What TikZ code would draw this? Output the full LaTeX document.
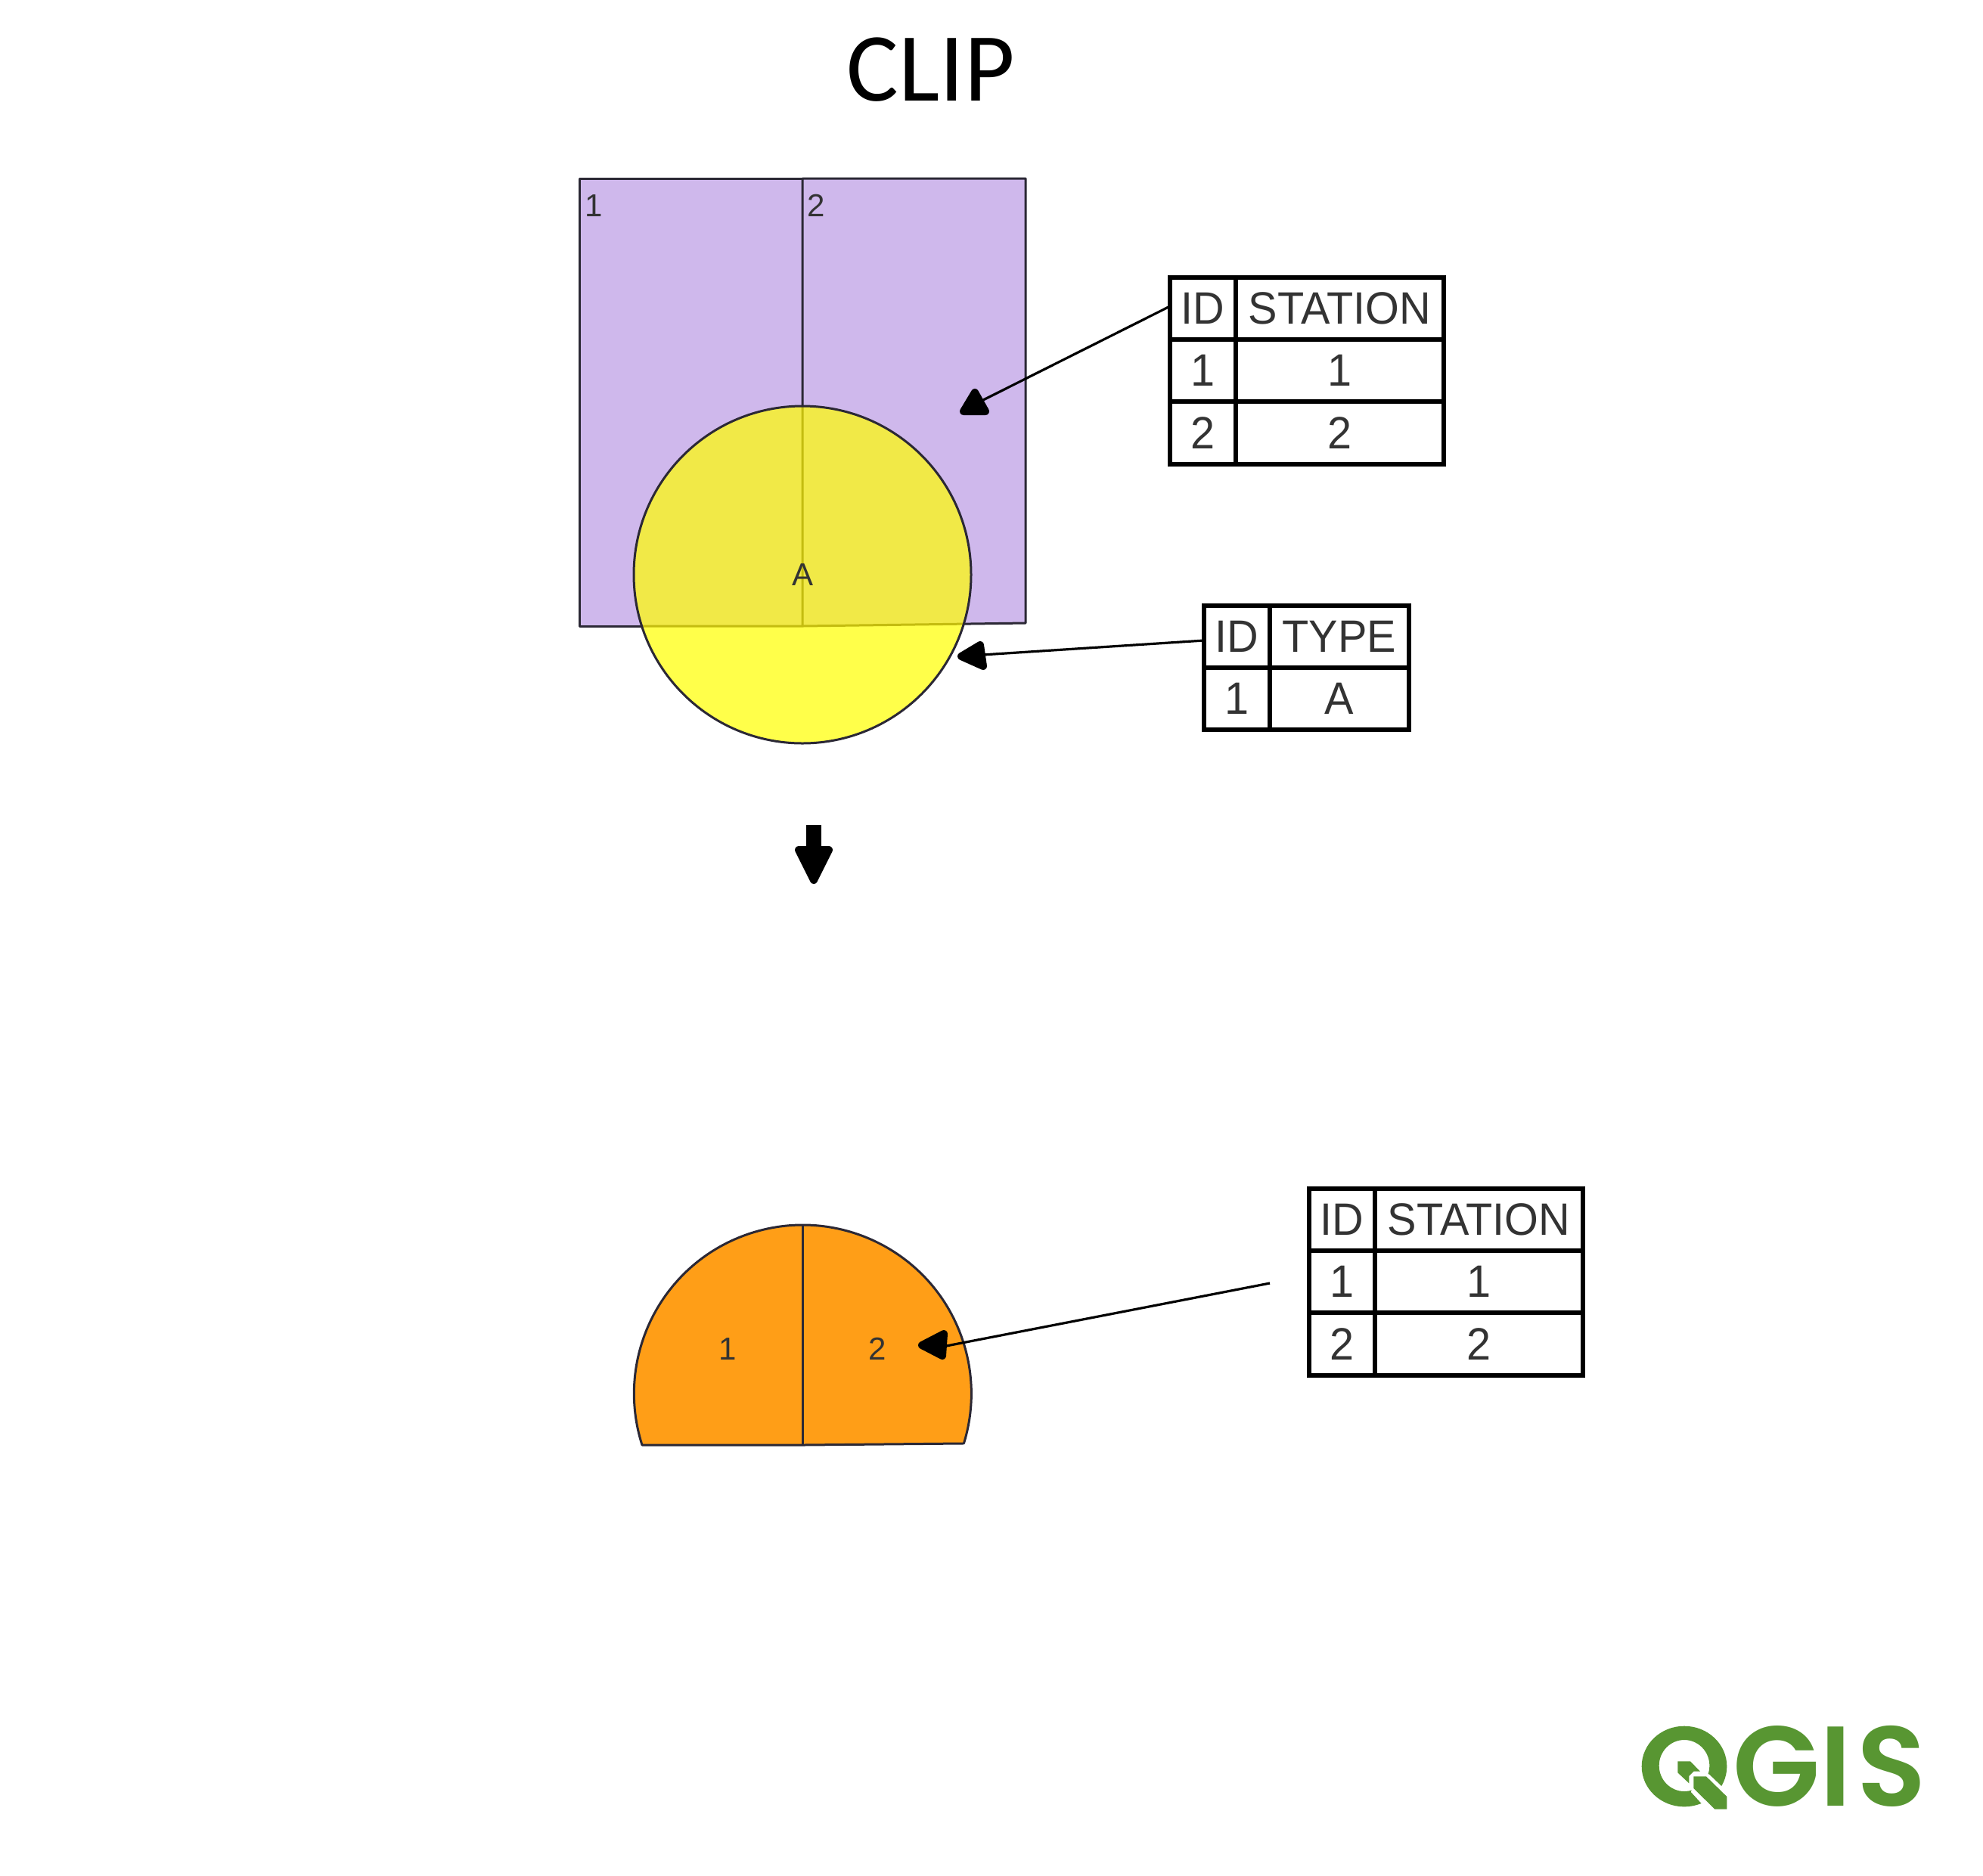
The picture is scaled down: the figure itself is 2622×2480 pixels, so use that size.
\documentclass[tikz,border=0pt]{standalone}
\usepackage{fontspec}
\usepackage{graphicx}
\setmainfont{Liberation Sans}
\newfontfamily\titlefont{Carlito}
\newfontfamily\logofont{Poppins SemiBold}
\usetikzlibrary{calc}
\definecolor{purp}{HTML}{CFB8EC}
\definecolor{yel}{HTML}{FFFF4A}
\definecolor{over}{HTML}{F1E947}
\definecolor{overline}{HTML}{C4BC10}
\definecolor{orng}{HTML}{FF9E17}
\definecolor{edge}{HTML}{2B2835}
\definecolor{ink}{HTML}{333333}
\definecolor{qgreen}{HTML}{589632}
\tikzset{
  poly/.style={draw=edge,line width=1.5pt,line join=round},
  cell/.style={draw=black,line width=3pt,inner sep=0pt,outer sep=0pt,anchor=center,text=ink,font=\fontsize{30}{30}\selectfont},
  lab/.style={text=ink,font=\fontsize{21}{21}\selectfont,inner sep=0pt},
  conn/.style={draw=black,line width=1.6pt},
  head/.style={fill=black,draw=black,line width=5pt,line join=round},
  logo/.style={fill=qgreen,draw=none},
  logoletter/.style={font=\logofont\fontsize{75}{75}\selectfont,text=qgreen,inner sep=0pt,anchor=center},
}
\newcommand{\tc}[1]{\scalebox{.96}[1]{#1}}
% cell: name, x0, y0, x1, y1, text
\newcommand{\tcell}[6]{\node[cell,minimum width={(#4-#2)*0.5pt},minimum height={(#5-#3)*0.5pt}] (#1) at ({(#2+#4)/2},{(#3+#5)/2}) {\tc{#6}};}
\begin{document}
\begin{tikzpicture}[x=0.5pt,y=-0.5pt]
\useasboundingbox (0,0) rectangle (2622,2480);
\fill[white] (0,0) rectangle (2622,2480);
% title
\node[font=\titlefont\fontsize{64.5}{64.5}\selectfont,inner sep=0pt] (title) at (1231,92) {CLIP};
% input polygons
\path[poly,fill=purp] (766,236) -- (1061,236) -- (1061,828) -- (766,828) -- cycle;
\path[poly,fill=purp] (1061,236) -- (1356,236) -- (1356,824) -- (1061,828) -- cycle;
\node[lab] (l1) at (785,272) {1};
\node[lab] (l2) at (1079,272) {2};
\fill[yel] (1061,760) circle [radius=223];
\begin{scope}
  \clip (1061,760) circle [radius=223];
  \fill[over] (766,236) -- (1356,236) -- (1356,824) -- (1061,828) -- (766,828) -- cycle;
  \draw[overline,line width=1.5pt] (1061,236) -- (1061,828) (766,828) -- (1061,828) -- (1356,824);
\end{scope}
\draw[edge,line width=1.5pt] (1061,760) circle [radius=223];
\node[lab] (la) at (1061,760) {A};
% big arrow
\fill[black] (1066,1091) rectangle (1086,1130);
\path[head,line width=5pt] (1056,1124) -- (1096,1124) -- (1076,1164) -- cycle;
% output
\path[poly,fill=orng] (849,1911) arc [start angle=162.25,end angle=377.2,radius=223] -- (1061,1911) -- cycle;
\draw[edge,line width=1.5pt] (1061,1620) -- (1061,1911);
\node[lab] (r1) at (962,1784) {1};
\node[lab] (r2) at (1160,1784) {2};
% table 1
\tcell{ta}{1547}{367}{1634}{449}{ID}
\tcell{tb}{1634}{367}{1909}{449}{STATION}
\tcell{tc}{1547}{449}{1634}{531}{1}
\tcell{td}{1634}{449}{1909}{531}{1}
\tcell{te}{1547}{531}{1634}{614}{2}
\tcell{tf}{1634}{531}{1909}{614}{2}
% table 2
\tcell{ua}{1592}{801}{1679}{883}{ID}
\tcell{ub}{1679}{801}{1863}{883}{TYPE}
\tcell{uc}{1592}{883}{1679}{965}{1}
\tcell{ud}{1679}{883}{1863}{965}{A}
% table 3
\tcell{va}{1731}{1572}{1818}{1654}{ID}
\tcell{vb}{1818}{1572}{2093}{1654}{STATION}
\tcell{vc}{1731}{1654}{1818}{1736}{1}
\tcell{vd}{1818}{1654}{2093}{1736}{1}
\tcell{ve}{1731}{1736}{1818}{1819}{2}
\tcell{vf}{1818}{1736}{2093}{1819}{2}
% connectors
\coordinate (e1) at (1300,529);
\coordinate (e2) at (1299,866);
\coordinate (e3) at (1246,1781);
\coordinate (s3) at (1679,1697);
\draw[conn] (ta.west) ++(0,-3) -- (e1);
\draw[conn] (ua.west) ++(0,5) -- (e2);
\draw[conn] (s3) -- (e3);
\path[head] (1289,519) -- (1274,544) -- (1303,544) -- cycle;
\path[head] (1271,868) -- (1296,853) -- (1300,881) -- cycle;
\path[head] (1219,1779) -- (1248,1764) -- (1246,1793) -- cycle;
% logo
\begin{scope}[shift={(2130,2240)},x=0.16667pt,y=-0.16667pt]
  \fill[logo,even odd rule] (291,288) ellipse [x radius=169,y radius=160] (291,285) ellipse [x radius=100,y radius=102];
  \fill[white] (318,390) -- (362,438) -- (480,480) -- (480,375) -- (437,365) -- (390,320) -- (340,300) -- cycle;
  \fill[logo] (265,268) -- (315,268) -- (354,308) -- (328,308) -- (310,326) -- (310,355) -- (265,313) -- cycle;
  \fill[logo] (328,328) -- (378,328) -- (460,408) -- (460,458) -- (412,458) -- (328,375) -- cycle;
\end{scope}
\node[logoletter] (logog) at (2349,2336) {G};
\node[logoletter] (logoi) at (2427,2336) {I};
\node[logoletter] (logos) at (2501,2336) {S};
\end{tikzpicture}
\end{document}
